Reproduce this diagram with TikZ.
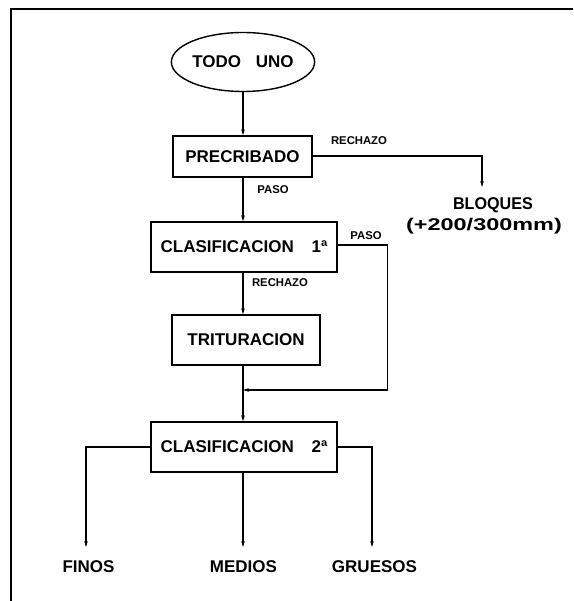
\documentclass[tikz,border=0pt]{standalone}
\usepackage{fontspec}
\usepackage{graphicx}
\setmainfont{Liberation Sans}
\usetikzlibrary{shapes.geometric,arrows.meta}
\newcommand{\bigf}{\fontsize{17}{20}\selectfont\bfseries}
\newcommand{\smallf}{\fontsize{11.3}{13}\selectfont\bfseries}
\begin{document}
\begin{tikzpicture}[x=1pt,y=-1pt,
  procbox/.style={draw, line width=1.4pt, inner sep=0pt, font=\bigf},
  lbl/.style={inner sep=0pt, font=\smallf},
  outlbl/.style={inner sep=0pt, font=\bigf},
  arr/.style={line width=1.1pt, -{Stealth[length=6pt,width=3.6pt]}},
  ln/.style={line width=1.1pt}]
\useasboundingbox (0,0) rectangle (573,601);
\fill[white] (0,0) rectangle (573,601);
% frame (top and left edges)
\draw[line width=2pt] (11,601) -- (11,9) -- (573,9);
% nodes
\node[procbox, ellipse, minimum width=117pt, minimum height=59pt] (todo) at (243,62) {TODO\hspace{10pt} UNO};
\node[procbox, minimum width=139pt, minimum height=41pt] (pre) at (242.5,156.5) {PRECRIBADO};
\node[procbox, minimum width=186pt, minimum height=50pt] (c1) at (244,247) {CLASIFICACION\hspace{13pt} 1ª};
\node[procbox, minimum width=148pt, minimum height=50pt] (trit) at (246,340) {TRITURACION};
\node[procbox, minimum width=186pt, minimum height=50pt] (c2) at (244,447) {CLASIFICACION\hspace{13pt} 2ª};
\node[outlbl] (bloq1) at (493,205) {\scalebox{0.95}[1]{BLOQUES}};
\node[outlbl] (bloq2) at (484,226) {\scalebox{1.38}[1]{(+200/300mm)}};
\node[outlbl] (finos) at (88.5,567) {FINOS};
\node[outlbl] (medios) at (243.5,567) {MEDIOS};
\node[outlbl] (gruesos) at (374.5,567) {GRUESOS};
% labels
\node[lbl] (lrech1) at (359,141) {RECHAZO};
\node[lbl] (lpaso1) at (273,190) {PASO};
\node[lbl] (lpaso2) at (366,236) {PASO};
\node[lbl] (lrech2) at (280,283) {RECHAZO};
% free ends
\coordinate (bt) at (482,187);
\coordinate (j) at (243,390);
\coordinate (ft) at (86,547);
\coordinate (mt) at (243,547);
\coordinate (gt) at (372,547);
% connectors
\draw[arr] (todo.south) -- (todo.south |- pre.north);
\draw[arr] (pre.east |- 0,156) -| (bt);
\draw[arr] (todo.south |- pre.south) -- (todo.south |- c1.north);
\draw[arr] (c1.east |- 0,245) -- ++(50,0) |- (j);
\draw[arr] (todo.south |- c1.south) -- (todo.south |- trit.north);
\draw[arr] (todo.south |- trit.south) -- (todo.south |- c2.north);
\draw[arr] (c2.west) -| (ft);
\draw[arr] (c2.south -| mt) -- (mt);
\draw[arr] (c2.east) -| (gt);
\end{tikzpicture}
\end{document}
